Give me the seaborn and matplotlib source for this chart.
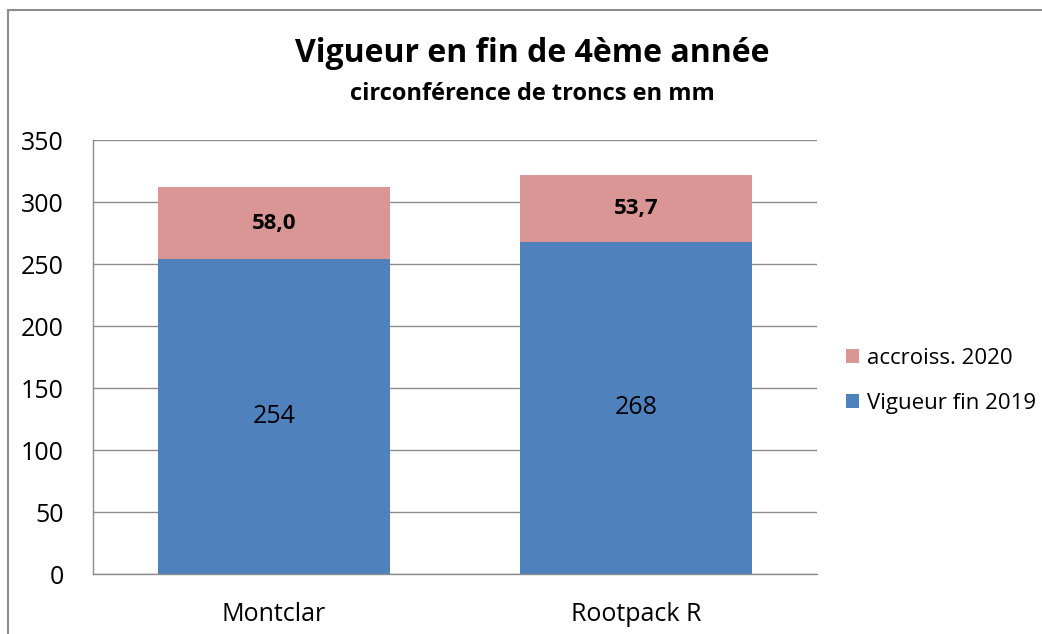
import matplotlib.pyplot as plt
import matplotlib.patches as mpatches
import pandas as pd
import seaborn as sns

porte_greffes = ["Montclar", "Rootpack R"]
vigueur_2019 = [254, 268]
accroiss_2020 = [58.0, 53.7]
y_ticks = [0, 50, 100, 150, 200, 250, 300, 350]

df = pd.DataFrame(
    {
        "porte_greffe": porte_greffes,
        "vigueur": vigueur_2019,
        "accroiss": accroiss_2020,
    }
)
df["total"] = df["vigueur"] + df["accroiss"]

sns.set_style("white")
plt.rcParams["font.family"] = ["Open Sans", "DejaVu Sans"]
plt.rcParams["text.color"] = "black"
plt.rcParams["xtick.color"] = "black"
plt.rcParams["ytick.color"] = "black"

blue = "#4F81BD"
pink = "#D99694"

fig = plt.figure(figsize=(10.42, 6.34), dpi=100)
ax = fig.add_axes([0.0893, 0.0946, 0.6947, 0.6844])

# cadre gris autour du graphique
fig.patches.append(
    mpatches.Rectangle(
        (8 / 1042, -0.1), 1.2, 1 - 10 / 634 + 0.1,
        transform=fig.transFigure, fill=False, edgecolor="#8c8c8c", linewidth=1.5,
    )
)

sns.barplot(data=df, x="porte_greffe", y="total", color=pink, width=0.64,
            saturation=1, linewidth=0, ax=ax, label="accroiss. 2020")
sns.barplot(data=df, x="porte_greffe", y="vigueur", color=blue, width=0.64,
            saturation=1, linewidth=0, ax=ax, label="Vigueur fin 2019")

for i, row in df.iterrows():
    ax.text(i, row["vigueur"] / 2, f"{row['vigueur']:.0f}", ha="center",
            va="center", fontsize=18)
    ax.text(i, row["vigueur"] + row["accroiss"] / 2,
            f"{row['accroiss']:.1f}".replace(".", ","), ha="center",
            va="center", fontsize=16, fontweight="bold")

ax.set_ylim(0, 350)
ax.set_xlim(-0.5, 1.5)
ax.set_yticks(y_ticks)
ax.yaxis.grid(True, color="#8c8c8c", linewidth=1)
ax.set_axisbelow(True)
ax.set_xlabel("")
ax.set_ylabel("")
ax.tick_params(axis="y", labelsize=18, pad=21, length=0)
ax.tick_params(axis="x", labelsize=18, pad=20, length=0)
for side in ["top", "right"]:
    ax.spines[side].set_visible(False)
for side in ["left", "bottom"]:
    ax.spines[side].set_color("#8c8c8c")
    ax.spines[side].set_linewidth(1)

ax.legend(loc="center left", bbox_to_anchor=(1.012, 0.445), frameon=False,
          fontsize=16, handlelength=0.6, handleheight=0.6,
          handletextpad=0.35, labelspacing=1.05)

fig.text(0.511, 0.915, "Vigueur en fin de 4ème année", ha="center",
         va="center", fontsize=23, fontweight="bold")
fig.text(0.511, 0.852, "circonférence de troncs en mm", ha="center",
         va="center", fontsize=17, fontweight="bold")

fig.savefig("out.png", dpi=100)
